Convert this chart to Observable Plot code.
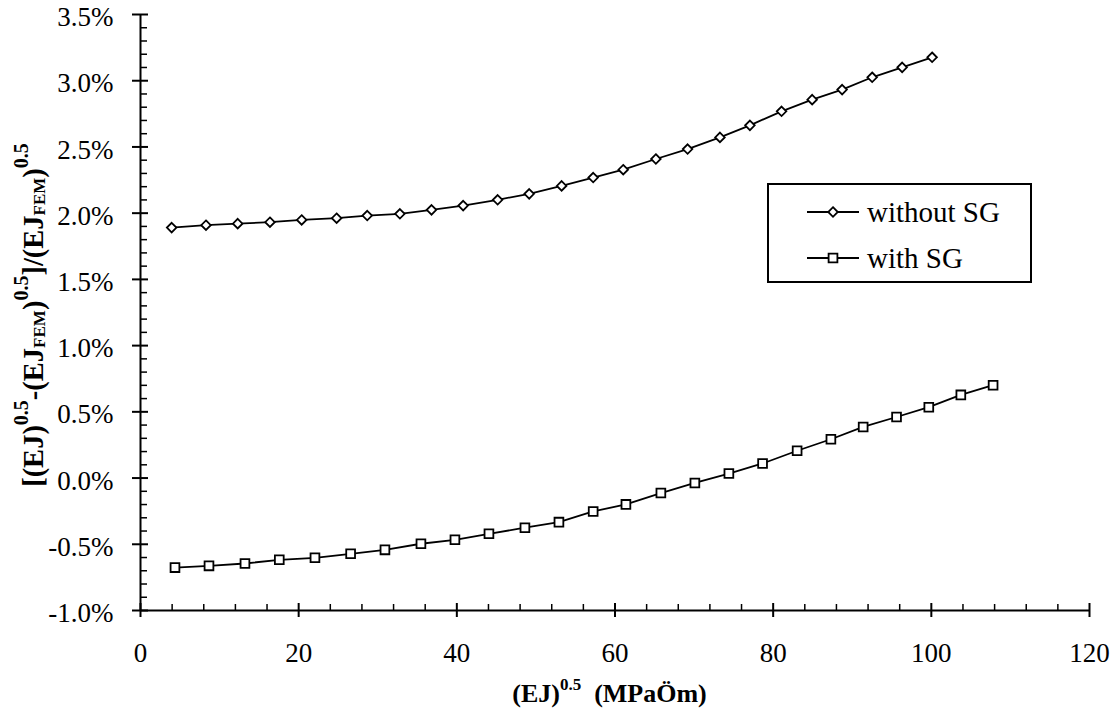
<!DOCTYPE html>
<html><head><meta charset="utf-8">
<script src="https://cdn.jsdelivr.net/npm/d3@7"></script>
<script src="https://cdn.jsdelivr.net/npm/@observablehq/plot@0.6"></script>
<style>html,body{margin:0;padding:0;background:#fff;} svg{display:block;}</style>
</head><body><div id="chart"></div>
<script>
// ---- data ----
const seriesNames = ["without SG", "with SG"];
const xWithout = [3.94, 8.28, 12.29, 16.37, 20.38, 24.8, 28.67, 32.8, 36.8, 40.8, 45.16, 49.15, 53.25, 57.24, 61.04, 65.17, 69.18, 73.27, 77.06, 81.06, 84.93, 88.72, 92.52, 96.31, 100.1];
const yWithout = [1.891, 1.909, 1.921, 1.932, 1.949, 1.962, 1.982, 1.995, 2.025, 2.057, 2.101, 2.146, 2.206, 2.269, 2.328, 2.409, 2.484, 2.572, 2.663, 2.769, 2.857, 2.933, 3.026, 3.101, 3.177];
const xWith = [4.36, 8.66, 13.21, 17.55, 22.06, 26.57, 30.91, 35.46, 39.76, 44.06, 48.61, 52.91, 57.24, 61.38, 65.8, 70.1, 74.4, 78.66, 83.03, 87.3, 91.38, 95.6, 99.68, 103.73, 107.81];
const yWith = [-0.676, -0.663, -0.645, -0.617, -0.602, -0.572, -0.542, -0.496, -0.466, -0.421, -0.375, -0.333, -0.252, -0.199, -0.113, -0.037, 0.034, 0.110, 0.206, 0.293, 0.386, 0.461, 0.535, 0.628, 0.701];
const xDomain = [0, 120];
const yDomain = [-1.0, 3.5];
const xTicks = [0, 20, 40, 60, 80, 100, 120];
const yTicks = [-1.0, -0.5, 0.0, 0.5, 1.0, 1.5, 2.0, 2.5, 3.0, 3.5];
const xMinor = d3.range(0, 121, 4).filter(v => v % 20 !== 0);
const yMinor = d3.range(-10, 36).filter(v => v % 5 !== 0).map(v => v / 10);

const rowsWithout = xWithout.map((x, i) => ({series: seriesNames[0], x, y: yWithout[i]}));
const rowsWith = xWith.map((x, i) => ({series: seriesNames[1], x, y: yWith[i]}));
const rows = rowsWithout.concat(rowsWith);

const FONT = "'Liberation Serif', 'Times New Roman', Times, serif";
const W = 1112, H = 713, MT = 14, MB = 103, ML = 140, MR = 23;
// pixel -> data unit factors (for tick lengths)
const pxX = (xDomain[1] - xDomain[0]) / (W - ML - MR);
const pxY = (yDomain[1] - yDomain[0]) / (H - MT - MB);
const x0 = xDomain[0], y0 = yDomain[0];

const plot = Plot.plot({
  width: W, height: H,
  marginTop: MT, marginBottom: MB, marginLeft: ML, marginRight: MR,
  style: {fontFamily: FONT, fontSize: "27px", color: "#000", background: "#fff", overflow: "visible"},
  x: {domain: xDomain},
  y: {domain: yDomain},
  marks: [
    Plot.axisX({ticks: xTicks, tickSize: 0, tickPadding: 32, fontSize: 27, label: null}),
    Plot.axisY({ticks: yTicks, tickSize: 0, tickPadding: 27, fontSize: 27, dy: 3, label: null, tickFormat: d => d.toFixed(1) + "%"}),
    Plot.ruleY([y0], {stroke: "#000", strokeWidth: 2}),
    Plot.ruleX([x0], {stroke: "#000", strokeWidth: 2}),
    Plot.ruleX(xTicks, {x: d => d, y1: () => y0 - 7 * pxY, y2: () => y0 + 7 * pxY, stroke: "#000", strokeWidth: 2}),
    Plot.ruleX(xMinor, {x: d => d, y1: () => y0, y2: () => y0 + 6 * pxY, stroke: "#000", strokeWidth: 1.5}),
    Plot.ruleY(yTicks, {y: d => d, x1: () => x0 - 8 * pxX, x2: () => x0 + 8 * pxX, stroke: "#000", strokeWidth: 2}),
    Plot.ruleY(yMinor, {y: d => d, x1: () => x0, x2: () => x0 + 7 * pxX, stroke: "#000", strokeWidth: 1.5}),
    Plot.line(rows, {x: "x", y: "y", z: "series", stroke: "#000", strokeWidth: 1.8}),
    Plot.dot(rowsWithout, {x: "x", y: "y", symbol: "diamond2", r: 4.3, stroke: "#000", fill: "#fff", strokeWidth: 1.8}),
    Plot.dot(rowsWith, {x: "x", y: "y", symbol: "square2", r: 5.6, stroke: "#000", fill: "#fff", strokeWidth: 1.8})
  ]
});
document.getElementById("chart").appendChild(plot);

const svg = d3.select(plot);
const sx = plot.scale("x"), sy = plot.scale("y");

// x-axis title
const xMid = (sx.apply(xDomain[0]) + sx.apply(xDomain[1])) / 2;
const xt = svg.append("text").attr("x", xMid - 5).attr("y", 702).attr("text-anchor", "middle")
  .attr("font-family", FONT).attr("font-weight", "bold").attr("font-size", 26).attr("fill", "#000");
xt.append("tspan").text("(EJ)");
xt.append("tspan").attr("font-size", 17).attr("dy", -12).text("0.5");
xt.append("tspan").attr("dy", 12).text("\u00A0 (MPaÖm)");

// y-axis title
const yMid = (sy.apply(yDomain[0]) + sy.apply(yDomain[1])) / 2;
const yt = svg.append("text").attr("transform", `translate(43,${yMid + 3}) rotate(-90)`).attr("text-anchor", "middle")
  .attr("font-family", FONT).attr("font-weight", "bold").attr("font-size", 28.5).attr("fill", "#000");
const parts = [
  ["[(EJ)", 0, 28.5], ["0.5", -15, 20], ["-(EJ", 15, 28.5], ["FEM", 2, 17], [")", -2, 28.5], ["0.5", -15, 20],
  ["]/(EJ", 15, 28.5], ["FEM", 2, 17], [")", -2, 28.5], ["0.5", -15, 20]
];
parts.forEach(([t, dy, fs]) => yt.append("tspan").attr("dy", dy).attr("font-size", fs).text(t));

// legend
const lg = svg.append("g");
lg.append("rect").attr("x", 768).attr("y", 184).attr("width", 263).attr("height", 98)
  .attr("fill", "#fff").attr("stroke", "#000").attr("stroke-width", 2);
const legendItems = [
  {name: seriesNames[0], sym: d3.symbolDiamond2, r: 4.3, y: 212},
  {name: seriesNames[1], sym: d3.symbolSquare2, r: 5.6, y: 258}
];
legendItems.forEach(it => {
  lg.append("line").attr("x1", 807).attr("x2", 859).attr("y1", it.y).attr("y2", it.y).attr("stroke", "#000").attr("stroke-width", 1.8);
  lg.append("path").attr("d", d3.symbol(it.sym, Math.PI * it.r * it.r)()).attr("transform", `translate(833,${it.y})`)
    .attr("fill", "#fff").attr("stroke", "#000").attr("stroke-width", 1.8);
  lg.append("text").attr("x", 867).attr("y", it.y + 10).attr("text-anchor", "start")
    .attr("font-family", FONT).attr("font-size", 29).attr("fill", "#000").text(it.name);
});
</script>
</body></html>
